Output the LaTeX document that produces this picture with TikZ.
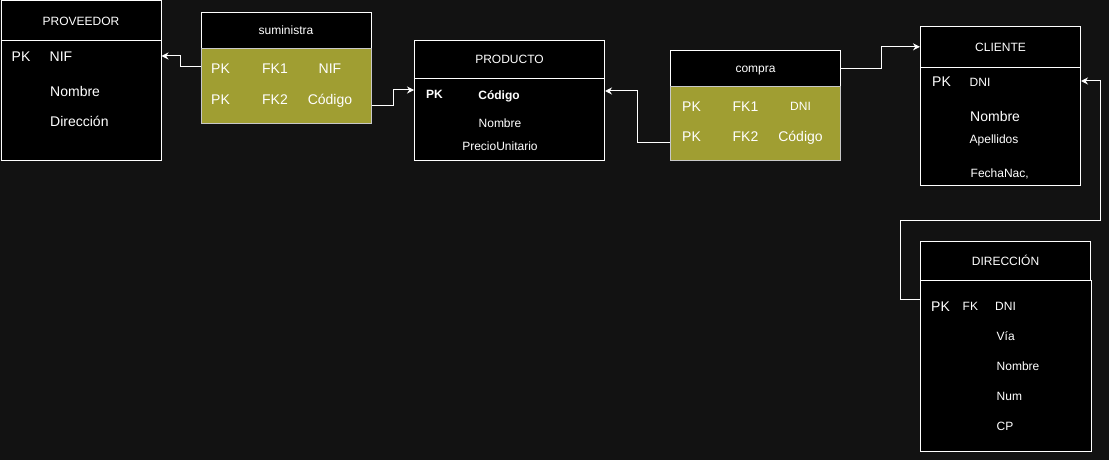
\documentclass[tikz,border=0pt]{standalone}
\usepackage{fontspec}
\setmainfont{Liberation Sans}
\usetikzlibrary{arrows.meta}
\definecolor{canvas}{RGB}{18,18,18}
\definecolor{linkfill}{RGB}{160,158,50}
\definecolor{linkline}{RGB}{200,200,200}
\begin{document}
\begin{tikzpicture}[x=1pt, y=-1pt,
    headbox/.style={draw=white, line width=1pt, fill=black, text=white, anchor=north west, inner sep=0pt,
      text height=8.6pt, text depth=0pt, font=\fontsize{12}{14}\selectfont},
    bodybox/.style={draw=white, line width=1pt, fill=black, anchor=north west, inner sep=0pt},
    linkbody/.style={bodybox, draw=linkline, fill=linkfill},
    attr/.style={text=white, inner sep=0pt, font=\fontsize{12}{14}\selectfont},
    big/.style={font=\fontsize{14}{17}\selectfont},
    pkbold/.style={font=\fontsize{12}{14}\selectfont\bfseries},
    fk/.style={draw=white, line width=1pt, -{Stealth[length=7pt, width=7pt]}}]
  \useasboundingbox (0,0) rectangle (1109,460);
  \fill[canvas] (0,0) rectangle (1109,460);
  % tables
  \node[headbox, minimum width=160, minimum height=40] (provh) at (0.5,0.5) {PROVEEDOR};
  \node[bodybox, minimum width=160, minimum height=120] (provb) at (0.5,40) {};
  \node[headbox, minimum width=170, minimum height=35.2] (sumh) at (200.5,12.5) {suministra};
  \node[linkbody, minimum width=170, minimum height=75] (sumb) at (200.5,47.7) {};
  \node[headbox, minimum width=190, minimum height=38] (prodh) at (414,40) {PRODUCTO};
  \node[bodybox, minimum width=190, minimum height=82] (prodb) at (414,78) {};
  \node[headbox, minimum width=170, minimum height=35.7] (comph) at (670,50) {compra};
  \node[linkbody, minimum width=170, minimum height=74.3] (compb) at (670,85.7) {};
  \node[headbox, minimum width=160, minimum height=40.7] (clih) at (920,26) {CLIENTE};
  \node[bodybox, minimum width=160, minimum height=118.3] (clib) at (920,66.7) {};
  \node[headbox, minimum width=170, minimum height=39.3] (dirh) at (920,240.7) {DIRECCIÓN};
  \node[bodybox, minimum width=171, minimum height=171] (dirb) at (920,280) {};
  % PROVEEDOR fields
  \node[attr, big, anchor=base west] (prov-pk) at (11.5,61.7) {PK};
  \node[attr, big, anchor=base west] (prov-nif) at (49.5,61.7) {NIF};
  \foreach \a/\yy [count=\i] in {Nombre/96.7,Dirección/126.5} {
    \node[attr, big, anchor=base west] (prov-\i) at (50,\yy) {\a};
  }
  % suministra fields
  \foreach \f/\c/\yy [count=\i] in {FK1/NIF/74,FK2/Código/104} {
    \node[attr, big, anchor=base west] (sum-pk\i) at (211,\yy) {PK};
    \node[attr, big, anchor=base] (sum-fk\i) at (275,\yy) {\f};
    \node[attr, big, anchor=base] (sum-col\i) at (330,\yy) {\c};
  }
  % PRODUCTO fields
  \node[attr, pkbold, anchor=base west] (prod-pk) at (426,98.3) {PK};
  \node[attr, pkbold, anchor=base] (prod-cod) at (499,99.5) {Código};
  \foreach \a/\yy [count=\i] in {Nombre/128,PrecioUnitario/150} {
    \node[attr, anchor=base] (prod-\i) at (500,\yy) {\a};
  }
  % compra fields
  \foreach \f [count=\i] in {FK1,FK2} {
    \node[attr, big, anchor=base west] (comp-pk\i) at (682,82+\i*29.5) {PK};
    \node[attr, big, anchor=base] (comp-fk\i) at (745.5,82+\i*29.5) {\f};
  }
  \node[attr, anchor=base] (comp-dni) at (800.5,110.7) {DNI};
  \node[attr, big, anchor=base] (comp-cod) at (800.5,141) {Código};
  % CLIENTE fields
  \node[attr, big, anchor=base west] (cli-pk) at (932,87) {PK};
  \node[attr, anchor=base west] (cli-dni) at (969.5,86) {DNI};
  \node[attr, big, anchor=base west] (cli-nom) at (970,121.7) {Nombre};
  \node[attr, anchor=base west] (cli-ape) at (969.5,143.7) {Apellidos};
  \node[attr, anchor=base west] (cli-fec) at (970.5,177) {FechaNac,};
  % DIRECCIÓN fields
  \node[attr, big, anchor=base west] (dir-pk) at (931,311) {PK};
  \node[attr, anchor=base west] (dir-fk) at (962.5,310) {FK};
  \node[attr, anchor=base west] (dir-dni) at (995,310) {DNI};
  \foreach \a [count=\i] in {Vía,Nombre,Num,CP} {
    \node[attr, anchor=base west] (dir-\i) at (996.5,310+\i*30) {\a};
  }
  % relations
  \draw[fk] ([yshift=-19pt]sumb.north west) -- ++(-20,0) |- ([yshift=-16pt]provb.north east);
  \draw[fk] ([yshift=18.7pt]sumb.south east) -- ++(22.4,0) |- ([yshift=-12pt]prodb.north west);
  \draw[fk] ([yshift=18.3pt]compb.south west) -- ++(-33,0) |- ([yshift=-13pt]prodb.north east);
  \draw[fk] (comph.east) -- ++(40,0) |- (clih.west);
  \draw[fk] ([yshift=-19.3pt]dirb.north west) -- ++(-20,0) -- ++(0,-79.3) -- ++(200,0) |- ([yshift=-14.3pt]clib.north east);
\end{tikzpicture}
\end{document}
